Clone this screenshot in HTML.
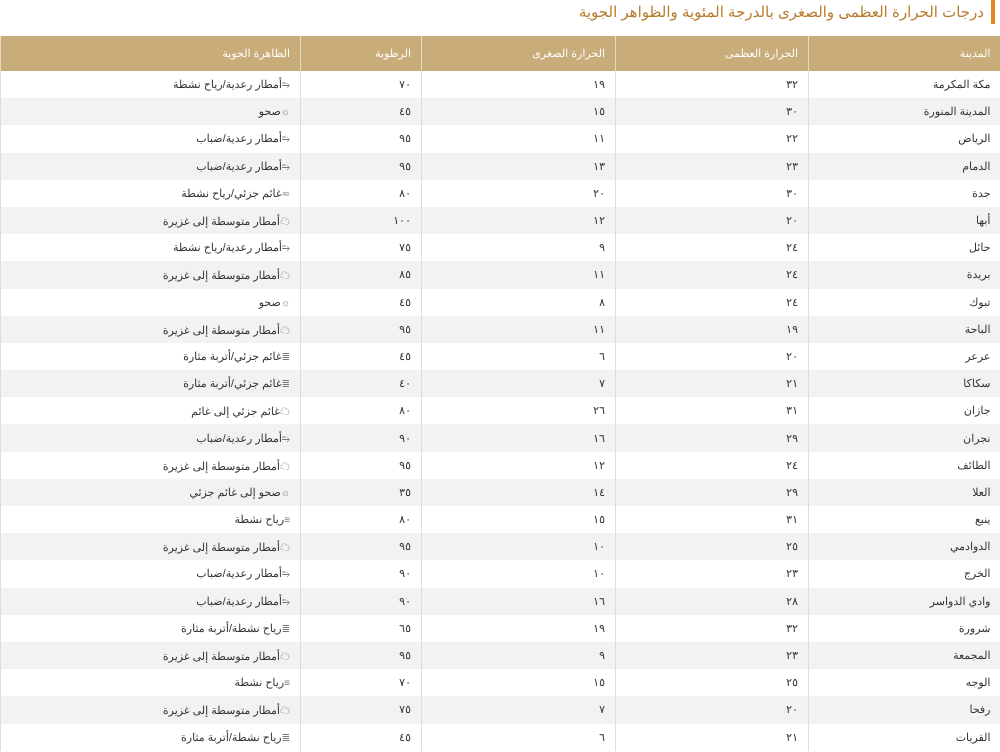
<!DOCTYPE html>
<html><head><meta charset="utf-8"><style>
body{margin:0;width:1000px;height:752px;overflow:hidden;background:#fff;font-family:"Liberation Sans","Noto Sans CJK SC",sans-serif;}
.title{position:absolute;right:16px;top:3px;font-size:15px;color:#b87a2c;direction:rtl;}
.bar{position:absolute;left:991px;top:0;width:4px;height:24px;background:#e08a1e;}
table{position:absolute;left:0;top:36px;width:1000px;border-collapse:collapse;table-layout:fixed;direction:rtl;}
th{background:#c8ac79;color:#fff;font-weight:normal;font-size:11px;height:35px;text-align:right;padding:0 10px;border-left:1px solid #e8dcc4;}
td{height:27.2px;padding:0 10px;font-size:11px;color:#333;text-align:right;border-left:1px solid #ddd;white-space:nowrap;}
tr:nth-child(even) td{background:#f2f2f2;}
i{font-style:normal;color:#777;font-size:10px;}
</style></head><body>
<div class="bar"></div>
<div class="title">درجات الحرارة العظمى والصغرى بالدرجة المئوية والظواهر الجوية</div>
<table>
<colgroup><col style="width:192px"><col style="width:193px"><col style="width:194px"><col style="width:121px"><col style="width:300px"></colgroup>
<thead><tr><th>المدينة</th><th>الحرارة العظمى</th><th>الحرارة الصغرى</th><th>الرطوبة</th><th>الظاهرة الجوية</th></tr></thead>
<tbody>
<tr><td>مكة المكرمة</td><td>٣٢</td><td>١٩</td><td>٧٠</td><td><i>⥱</i>أمطار رعدية/رياح نشطة</td></tr>
<tr><td>المدينة المنورة</td><td>٣٠</td><td>١٥</td><td>٤٥</td><td><i>☼</i>صحو</td></tr>
<tr><td>الرياض</td><td>٢٢</td><td>١١</td><td>٩٥</td><td><i>⥱</i>أمطار رعدية/ضباب</td></tr>
<tr><td>الدمام</td><td>٢٣</td><td>١٣</td><td>٩٥</td><td><i>⥱</i>أمطار رعدية/ضباب</td></tr>
<tr><td>جدة</td><td>٣٠</td><td>٢٠</td><td>٨٠</td><td><i>≂</i>غائم جزئي/رياح نشطة</td></tr>
<tr><td>أبها</td><td>٢٠</td><td>١٢</td><td>١٠٠</td><td><i>☁</i>أمطار متوسطة إلى غزيرة</td></tr>
<tr><td>حائل</td><td>٢٤</td><td>٩</td><td>٧٥</td><td><i>⥱</i>أمطار رعدية/رياح نشطة</td></tr>
<tr><td>بريدة</td><td>٢٤</td><td>١١</td><td>٨٥</td><td><i>☁</i>أمطار متوسطة إلى غزيرة</td></tr>
<tr><td>تبوك</td><td>٢٤</td><td>٨</td><td>٤٥</td><td><i>☼</i>صحو</td></tr>
<tr><td>الباحة</td><td>١٩</td><td>١١</td><td>٩٥</td><td><i>☁</i>أمطار متوسطة إلى غزيرة</td></tr>
<tr><td>عرعر</td><td>٢٠</td><td>٦</td><td>٤٥</td><td><i>≣</i>غائم جزئي/أتربة مثارة</td></tr>
<tr><td>سكاكا</td><td>٢١</td><td>٧</td><td>٤٠</td><td><i>≣</i>غائم جزئي/أتربة مثارة</td></tr>
<tr><td>جازان</td><td>٣١</td><td>٢٦</td><td>٨٠</td><td><i>☁</i>غائم جزئي إلى غائم</td></tr>
<tr><td>نجران</td><td>٢٩</td><td>١٦</td><td>٩٠</td><td><i>⥱</i>أمطار رعدية/ضباب</td></tr>
<tr><td>الطائف</td><td>٢٤</td><td>١٢</td><td>٩٥</td><td><i>☁</i>أمطار متوسطة إلى غزيرة</td></tr>
<tr><td>العلا</td><td>٢٩</td><td>١٤</td><td>٣٥</td><td><i>☼</i>صحو إلى غائم جزئي</td></tr>
<tr><td>ينبع</td><td>٣١</td><td>١٥</td><td>٨٠</td><td><i>≡</i>رياح نشطة</td></tr>
<tr><td>الدوادمي</td><td>٢٥</td><td>١٠</td><td>٩٥</td><td><i>☁</i>أمطار متوسطة إلى غزيرة</td></tr>
<tr><td>الخرج</td><td>٢٣</td><td>١٠</td><td>٩٠</td><td><i>⥱</i>أمطار رعدية/ضباب</td></tr>
<tr><td>وادي الدواسر</td><td>٢٨</td><td>١٦</td><td>٩٠</td><td><i>⥱</i>أمطار رعدية/ضباب</td></tr>
<tr><td>شرورة</td><td>٣٢</td><td>١٩</td><td>٦٥</td><td><i>≣</i>رياح نشطة/أتربة مثارة</td></tr>
<tr><td>المجمعة</td><td>٢٣</td><td>٩</td><td>٩٥</td><td><i>☁</i>أمطار متوسطة إلى غزيرة</td></tr>
<tr><td>الوجه</td><td>٢٥</td><td>١٥</td><td>٧٠</td><td><i>≡</i>رياح نشطة</td></tr>
<tr><td>رفحا</td><td>٢٠</td><td>٧</td><td>٧٥</td><td><i>☁</i>أمطار متوسطة إلى غزيرة</td></tr>
<tr><td>القريات</td><td>٢١</td><td>٦</td><td>٤٥</td><td><i>≣</i>رياح نشطة/أتربة مثارة</td></tr>
</tbody></table>
</body></html>
